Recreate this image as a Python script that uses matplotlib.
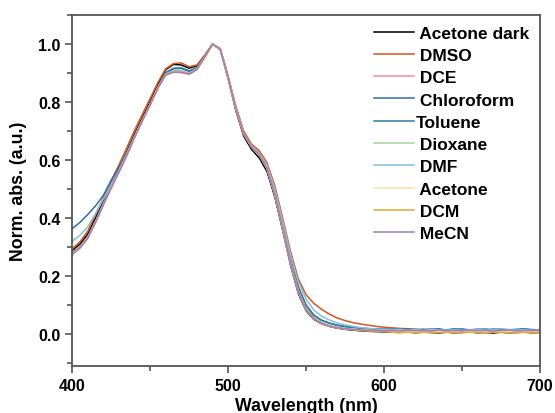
import matplotlib
matplotlib.use('Agg')
import matplotlib.pyplot as plt
from matplotlib.ticker import MultipleLocator, FormatStrFormatter

plt.rcParams['font.family'] = ['Liberation Sans', 'DejaVu Sans']
plt.rcParams['font.weight'] = 'bold'

# wavelength grid (nm), 5 nm steps
wavelength = list(range(400, 701, 5))

# normalized absorbance
acetone_dark = [0.288, 0.310, 0.345, 0.400, 0.458, 0.515, 0.570, 0.628, 0.690, 0.746,
                0.802, 0.862, 0.912, 0.930, 0.928, 0.917, 0.925, 0.960, 1.000, 0.982,
                0.882, 0.770, 0.683, 0.637, 0.607, 0.560, 0.472, 0.358, 0.238, 0.140,
                0.080, 0.050, 0.035, 0.026, 0.020, 0.016, 0.013, 0.011, 0.009, 0.008,
                0.007, 0.006, 0.005, 0.007, 0.004, 0.006, 0.005, 0.003, 0.006, 0.004,
                0.005, 0.007, 0.004, 0.005, 0.003, 0.006, 0.004, 0.005, 0.006, 0.004, 0.005]
dmso = [0.294, 0.318, 0.355, 0.412, 0.470, 0.528, 0.583, 0.642, 0.702, 0.758,
        0.812, 0.868, 0.915, 0.933, 0.935, 0.922, 0.928, 0.962, 1.000, 0.985,
        0.890, 0.785, 0.700, 0.655, 0.632, 0.590, 0.510, 0.400, 0.285, 0.190,
        0.135, 0.105, 0.085, 0.068, 0.055, 0.046, 0.039, 0.034, 0.030, 0.026,
        0.023, 0.021, 0.019, 0.018, 0.016, 0.015, 0.015, 0.013, 0.013, 0.012,
        0.012, 0.011, 0.011, 0.010, 0.010, 0.011, 0.009, 0.010, 0.009, 0.010, 0.009]
dce = [0.275, 0.297, 0.331, 0.386, 0.446, 0.504, 0.559, 0.616, 0.679, 0.736,
       0.791, 0.849, 0.894, 0.904, 0.903, 0.897, 0.913, 0.955, 1.000, 0.982,
       0.885, 0.776, 0.691, 0.646, 0.619, 0.571, 0.482, 0.367, 0.246, 0.148,
       0.086, 0.054, 0.038, 0.028, 0.022, 0.018, 0.016, 0.014, 0.012, 0.011,
       0.010, 0.011, 0.009, 0.012, 0.010, 0.011, 0.009, 0.012, 0.010, 0.011,
       0.009, 0.012, 0.010, 0.011, 0.009, 0.010, 0.012, 0.009, 0.011, 0.010, 0.011]
chloroform = [0.363, 0.385, 0.412, 0.442, 0.478, 0.530, 0.575, 0.625, 0.684, 0.740,
              0.795, 0.853, 0.902, 0.917, 0.918, 0.908, 0.918, 0.957, 1.000, 0.982,
              0.885, 0.778, 0.692, 0.648, 0.622, 0.578, 0.490, 0.378, 0.258, 0.160,
              0.098, 0.063, 0.047, 0.037, 0.030, 0.026, 0.023, 0.020, 0.018, 0.017,
              0.016, 0.016, 0.014, 0.017, 0.013, 0.016, 0.015, 0.018, 0.013, 0.015,
              0.017, 0.014, 0.016, 0.013, 0.017, 0.015, 0.014, 0.016, 0.018, 0.013, 0.015]
toluene = [0.280, 0.300, 0.335, 0.390, 0.450, 0.508, 0.563, 0.620, 0.682, 0.738,
           0.793, 0.852, 0.900, 0.915, 0.916, 0.906, 0.917, 0.957, 1.000, 0.982,
           0.885, 0.777, 0.692, 0.648, 0.622, 0.578, 0.492, 0.380, 0.260, 0.163,
           0.100, 0.065, 0.047, 0.037, 0.030, 0.025, 0.022, 0.020, 0.018, 0.017,
           0.016, 0.015, 0.017, 0.014, 0.016, 0.013, 0.017, 0.015, 0.014, 0.018,
           0.015, 0.013, 0.016, 0.017, 0.014, 0.016, 0.015, 0.013, 0.017, 0.015, 0.014]
dioxane = [0.276, 0.298, 0.332, 0.387, 0.447, 0.505, 0.560, 0.617, 0.680, 0.737,
           0.792, 0.850, 0.895, 0.905, 0.904, 0.898, 0.913, 0.955, 1.000, 0.982,
           0.885, 0.776, 0.691, 0.646, 0.619, 0.571, 0.481, 0.366, 0.245, 0.147,
           0.085, 0.053, 0.037, 0.028, 0.022, 0.018, 0.016, 0.014, 0.012, 0.011,
           0.010, 0.009, 0.011, 0.010, 0.012, 0.009, 0.010, 0.011, 0.009, 0.012,
           0.010, 0.009, 0.011, 0.010, 0.012, 0.009, 0.011, 0.010, 0.009, 0.011, 0.010]
dmf = [0.320, 0.340, 0.370, 0.415, 0.465, 0.515, 0.565, 0.620, 0.680, 0.737,
       0.792, 0.850, 0.897, 0.908, 0.908, 0.900, 0.914, 0.956, 1.000, 0.982,
       0.885, 0.778, 0.693, 0.650, 0.625, 0.583, 0.500, 0.390, 0.275, 0.180,
       0.120, 0.082, 0.061, 0.048, 0.038, 0.031, 0.026, 0.022, 0.019, 0.017,
       0.015, 0.014, 0.016, 0.013, 0.015, 0.012, 0.016, 0.014, 0.013, 0.015,
       0.012, 0.014, 0.016, 0.013, 0.015, 0.012, 0.014, 0.013, 0.015, 0.012, 0.014]
acetone = [0.274, 0.296, 0.330, 0.385, 0.445, 0.503, 0.558, 0.615, 0.678, 0.735,
           0.790, 0.848, 0.893, 0.903, 0.902, 0.896, 0.912, 0.955, 1.000, 0.982,
           0.885, 0.775, 0.690, 0.645, 0.618, 0.570, 0.480, 0.365, 0.243, 0.145,
           0.083, 0.052, 0.036, 0.027, 0.022, 0.018, 0.016, 0.014, 0.012, 0.011,
           0.010, 0.008, 0.009, 0.007, 0.008, 0.009, 0.007, 0.008, 0.006, 0.008,
           0.007, 0.009, 0.007, 0.008, 0.006, 0.008, 0.007, 0.009, 0.007, 0.008, 0.007]
dcm = [0.276, 0.298, 0.332, 0.387, 0.447, 0.505, 0.560, 0.617, 0.680, 0.737,
       0.792, 0.850, 0.895, 0.905, 0.904, 0.898, 0.913, 0.955, 1.000, 0.982,
       0.885, 0.777, 0.692, 0.647, 0.620, 0.572, 0.484, 0.369, 0.248, 0.150,
       0.087, 0.054, 0.037, 0.027, 0.021, 0.017, 0.014, 0.012, 0.010, 0.009,
       0.008, 0.006, 0.005, 0.006, 0.004, 0.006, 0.005, 0.004, 0.006, 0.005,
       0.004, 0.006, 0.005, 0.004, 0.006, 0.005, 0.004, 0.005, 0.006, 0.004, 0.005]
mecn = [0.274, 0.296, 0.330, 0.385, 0.445, 0.503, 0.558, 0.615, 0.678, 0.735,
        0.790, 0.848, 0.893, 0.903, 0.902, 0.896, 0.912, 0.955, 1.000, 0.982,
        0.885, 0.775, 0.690, 0.645, 0.618, 0.570, 0.480, 0.365, 0.243, 0.145,
        0.083, 0.052, 0.037, 0.028, 0.022, 0.018, 0.016, 0.014, 0.013, 0.012,
        0.011, 0.012, 0.010, 0.013, 0.011, 0.012, 0.010, 0.013, 0.011, 0.012,
        0.010, 0.013, 0.011, 0.012, 0.010, 0.012, 0.013, 0.010, 0.012, 0.011, 0.012]

labels = [' Acetone dark', ' DMSO', ' DCE', ' Chloroform', 'Toluene',
          ' Dioxane', ' DMF', ' Acetone', ' DCM', ' MeCN']
series = [acetone_dark, dmso, dce, chloroform, toluene, dioxane, dmf, acetone, dcm, mecn]
colors = ['#000000', '#D4561F', '#EE8FA0', '#2E6DB0', '#2B7F9F',
          '#A8D4A0', '#86BEDE', '#FBE3A0', '#E7A72B', '#A57DC0']

fig = plt.figure(figsize=(5.55, 4.14), dpi=100)
ax = fig.add_axes([0.130, 0.114, 0.843, 0.847])

for y, lab, c in zip(series, labels, colors):
    ax.plot(wavelength, y, color=c, lw=1.1, label=lab)

ax.set_xlim(400, 700)
ax.set_ylim(-0.11, 1.1)
ax.xaxis.set_major_locator(MultipleLocator(100))
ax.xaxis.set_minor_locator(MultipleLocator(50))
ax.yaxis.set_major_locator(MultipleLocator(0.2))
ax.yaxis.set_minor_locator(MultipleLocator(0.1))
ax.yaxis.set_major_formatter(FormatStrFormatter('%.1f'))

for s in ax.spines.values():
    s.set_color('#555555')
    s.set_linewidth(1.3)
ax.tick_params(which='both', direction='out', color='#555555', width=1.2,
               top=False, right=False, labelsize=11.5)
ax.tick_params(which='major', length=5)
ax.tick_params(which='minor', length=3.5)

ax.set_xlabel('Wavelength (nm)', fontsize=12.8, fontweight='bold', labelpad=3)
ax.set_ylabel('Norm. abs. (a.u.)', fontsize=12.8, fontweight='bold', labelpad=8)

ax.legend(loc='upper right', bbox_to_anchor=(1.0, 1.0), frameon=False,
          fontsize=12.5, handlelength=2.3, handletextpad=0.1, labelspacing=0.41,
          borderaxespad=0.2)

fig.savefig('out.png', dpi=100)
